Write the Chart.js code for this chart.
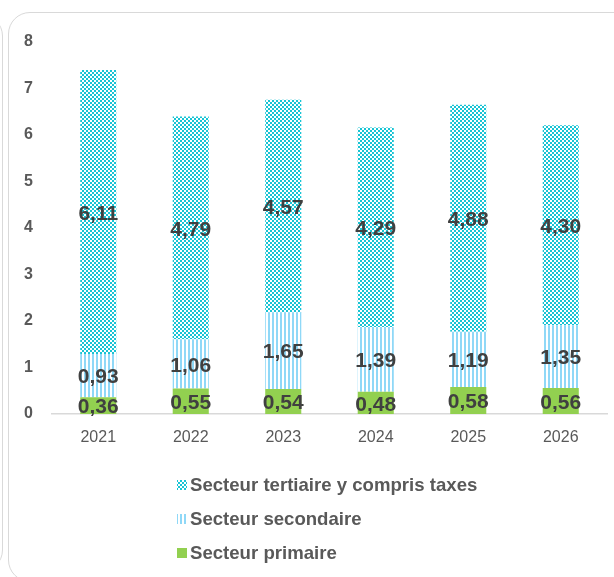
<!DOCTYPE html>
<html lang="fr">
<head>
<meta charset="UTF-8">
<title>Valeur ajoutée par secteur</title>
<script src="https://cdn.jsdelivr.net/npm/chart.js"></script>
<style>
    body { margin: 0; background: #fff; }
    #wrap { position: relative; width: 614px; height: 577px; overflow: hidden; }
    .cadre { position: absolute; border: 1.5px solid #d9d9d9; border-radius: 22px; box-sizing: border-box; }
    #cadre1 { left: 8px; top: 12px; width: 640px; height: 570px; }
    #cadre0 { left: -640px; top: 14px; width: 643px; height: 558px; }
    #graph { position: absolute; left: 0; top: 0; }
</style>
</head>
<body>
<div id="wrap">
    <div class="cadre" id="cadre0"></div>
    <div class="cadre" id="cadre1"></div>
    <canvas id="graph" width="614" height="577"></canvas>
</div>

<script>
const annees = ['2021', '2022', '2023', '2024', '2025', '2026'];
const primaire = [0.36, 0.55, 0.54, 0.48, 0.58, 0.56];
const secondaire = [0.93, 1.06, 1.65, 1.39, 1.19, 1.35];
const tertiaire = [6.11, 4.79, 4.57, 4.29, 4.88, 4.30];
const graduations = [0, 1, 2, 3, 4, 5, 6, 7, 8];

const POLICE = '"Liberation Sans", Arial, sans-serif';

// motifs de remplissage (damier et rayures verticales)
function motif(taille, dessin) {
    const c = document.createElement('canvas');
    c.width = taille; c.height = taille;
    const g = c.getContext('2d');
    g.fillStyle = '#fff';
    g.fillRect(0, 0, taille, taille);
    dessin(g);
    return document.getElementById('graph').getContext('2d').createPattern(c, 'repeat');
}

const damier = motif(4, g => {
    g.fillStyle = '#17c4d4';
    g.fillRect(0, 0, 2, 2);
    g.fillRect(2, 2, 2, 2);
});

const rayures = motif(4, g => {
    g.fillStyle = '#8fd8f7';
    g.fillRect(0, 0, 2, 4);
});

const fmt = v => v.toFixed(2).replace('.', ',');

const etiquettes = {
    id: 'etiquettes',
    afterDatasetsDraw(chart) {
        const ctx = chart.ctx;
        ctx.save();
        ctx.font = 'bold 21px ' + POLICE;
        ctx.fillStyle = '#404040';
        ctx.textAlign = 'center';
        ctx.textBaseline = 'middle';
        chart.data.datasets.forEach((ds, i) => {
            chart.getDatasetMeta(i).data.forEach((bar, j) => {
                const p = bar.getProps(['x', 'y', 'base'], true);
                ctx.fillText(fmt(ds.data[j]), p.x, (p.y + p.base) / 2 + 2);
            });
        });
        ctx.restore();
    }
};

// légende verticale sous le graphique
const legende = {
    id: 'legende',
    afterDraw(chart) {
        const ctx = chart.ctx;
        const x0 = 177;
        let y = chart.chartArea.bottom + 71;
        ctx.save();
        ctx.font = 'bold 18.6px ' + POLICE;
        ctx.textBaseline = 'middle';
        ctx.textAlign = 'left';
        chart.data.datasets.slice().reverse().forEach(ds => {
            ctx.fillStyle = ds.backgroundColor;
            ctx.fillRect(x0, y - 5, 10, 10);
            ctx.fillStyle = '#595959';
            ctx.fillText(ds.label, x0 + 13, y + 1);
            y += 34;
        });
        ctx.restore();
    }
};

new Chart(document.getElementById('graph'), {
    type: 'bar',
    data: {
        labels: annees,
        datasets: [
            { label: 'Secteur primaire', data: primaire, backgroundColor: '#92d050' },
            { label: 'Secteur secondaire', data: secondaire, backgroundColor: rayures },
            { label: 'Secteur tertiaire y compris taxes', data: tertiaire, backgroundColor: damier }
        ]
    },
    plugins: [etiquettes, legende],
    options: {
        responsive: false,
        animation: false,
        devicePixelRatio: 1,
        layout: { padding: { left: 20, right: 7, top: 42, bottom: 131 } },
        datasets: { bar: { barPercentage: 0.39, categoryPercentage: 1 } },
        plugins: { legend: { display: false }, tooltip: { enabled: false } },
        scales: {
            x: {
                stacked: true,
                grid: { display: false, drawTicks: false },
                border: { display: true, color: '#d9d9d9', width: 1.5 },
                ticks: { color: '#595959', padding: 14, font: { family: POLICE, size: 16 } },
                afterFit: s => { s.height = 32; }
            },
            y: {
                stacked: true,
                min: graduations[0],
                max: graduations[graduations.length - 1],
                afterBuildTicks: s => { s.ticks = graduations.map(v => ({ value: v })); },
                grid: { display: false, drawTicks: false },
                border: { display: false },
                ticks: { color: '#595959', padding: 19, font: { family: POLICE, size: 16, weight: 'bold' } },
                afterFit: s => { s.width = 32; }
            }
        }
    }
});
</script>
</body>
</html>
